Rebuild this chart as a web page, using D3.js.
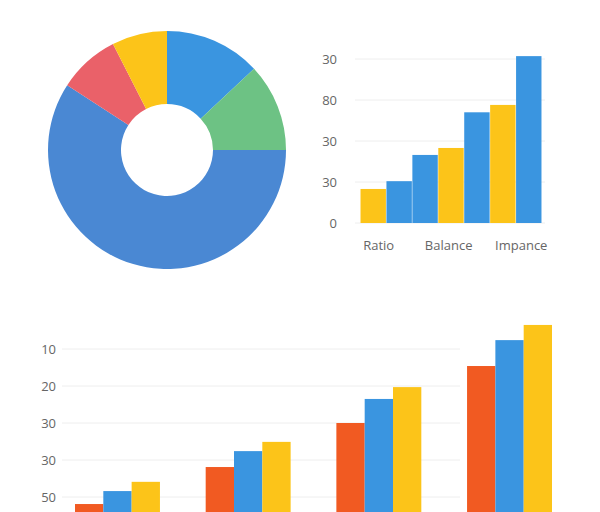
<!DOCTYPE html>
<html><head><meta charset="utf-8">
<script src="https://cdn.jsdelivr.net/npm/d3@7"></script>
<style>body{margin:0;background:#fff}text{font-family:"Open Sans",sans-serif}</style>
</head><body><div id="chart"></div>
<script>
// Donut
const donutValues = [47, 43, 213, 30, 27]
const donutColors = ["#3a95e0", "#6dc284", "#4a88d3", "#ea6169", "#fcc419"]

// Top right bars
const topValues = [0.83, 1.02, 1.66, 1.83, 2.7, 2.88, 4.07]
const topColors = ["#fcc419", "#3a95e0", "#3a95e0", "#fcc419", "#3a95e0", "#fcc419", "#3a95e0"]
const topTicks = ["0", "30", "30", "80", "30"]
const topCats = [{name: "Ratio", at: 0.2}, {name: "Balance", at: 2.9}, {name: "Impance", at: 5.7}]

// Bottom grouped bars
const groups = ["A", "B", "C", "D"]
const series = [
    [0.81, 1.81, 3.0, 4.54],
    [1.16, 2.24, 3.65, 5.24],
    [1.41, 2.49, 3.97, 5.65],
]
const seriesColors = ["#f15a22", "#3a95e0", "#fcc419"]
const bottomTicks = ["", "50", "30", "30", "20", "10"]

const svg = d3.select("#chart").append("svg").attr("width", 600).attr("height", 512)

// Donut
const pie = d3.pie().sort(null)(donutValues)
const arc = d3.arc().innerRadius(46).outerRadius(119)
svg.append("g").attr("transform", "translate(167,150)")
    .selectAll("path").data(pie).join("path")
    .attr("d", arc).attr("fill", (d, i) => donutColors[i])

// Top right
const x1 = d3.scaleBand().domain(d3.range(topValues.length)).range([360, 542]).padding(0.02)
const y1 = d3.scaleLinear().domain([0, 4]).range([223, 59])
const g1 = svg.append("g")
g1.selectAll("line").data(d3.range(5)).join("line")
    .attr("x1", 355).attr("x2", 545).attr("y1", d => y1(d)).attr("y2", d => y1(d))
    .attr("stroke", "#eee")
g1.selectAll(".tick").data(topTicks).join("text")
    .attr("x", 337).attr("y", (d, i) => y1(i) + 5).attr("text-anchor", "end")
    .attr("font-size", 13).attr("fill", "#666").text(d => d)
g1.selectAll(".cat").data(topCats).join("text")
    .attr("x", d => x1(0) + x1.step() * (d.at + 0.5)).attr("y", 250)
    .attr("text-anchor", "middle").attr("font-size", 13).attr("fill", "#666").text(d => d.name)
g1.selectAll("rect").data(topValues).join("rect")
    .attr("x", (d, i) => x1(i)).attr("width", x1.bandwidth())
    .attr("y", d => y1(d)).attr("height", d => y1(0) - y1(d))
    .attr("fill", (d, i) => topColors[i])

// Bottom
const x2 = d3.scaleBand().domain(groups).range([75, 552]).paddingInner(0.35).paddingOuter(0)
const xs = d3.scaleBand().domain(d3.range(3)).range([0, x2.bandwidth()])
const y2 = d3.scaleLinear().domain([0, 5]).range([534, 349])
const g2 = svg.append("g")
g2.selectAll("line").data(d3.range(1, 6)).join("line")
    .attr("x1", 62).attr("x2", 460).attr("y1", d => y2(d)).attr("y2", d => y2(d))
    .attr("stroke", "#eee")
g2.selectAll("text").data(bottomTicks).join("text")
    .attr("x", 56).attr("y", (d, i) => y2(i) + 5).attr("text-anchor", "end")
    .attr("font-size", 13).attr("fill", "#666").text(d => d)
series.forEach((vals, s) => {
    g2.append("g").selectAll("rect").data(vals).join("rect")
        .attr("x", (d, i) => x2(groups[i]) + xs(s)).attr("width", xs.bandwidth())
        .attr("y", d => y2(d)).attr("height", d => y2(0) - y2(d))
        .attr("fill", seriesColors[s])
})
</script></body></html>
